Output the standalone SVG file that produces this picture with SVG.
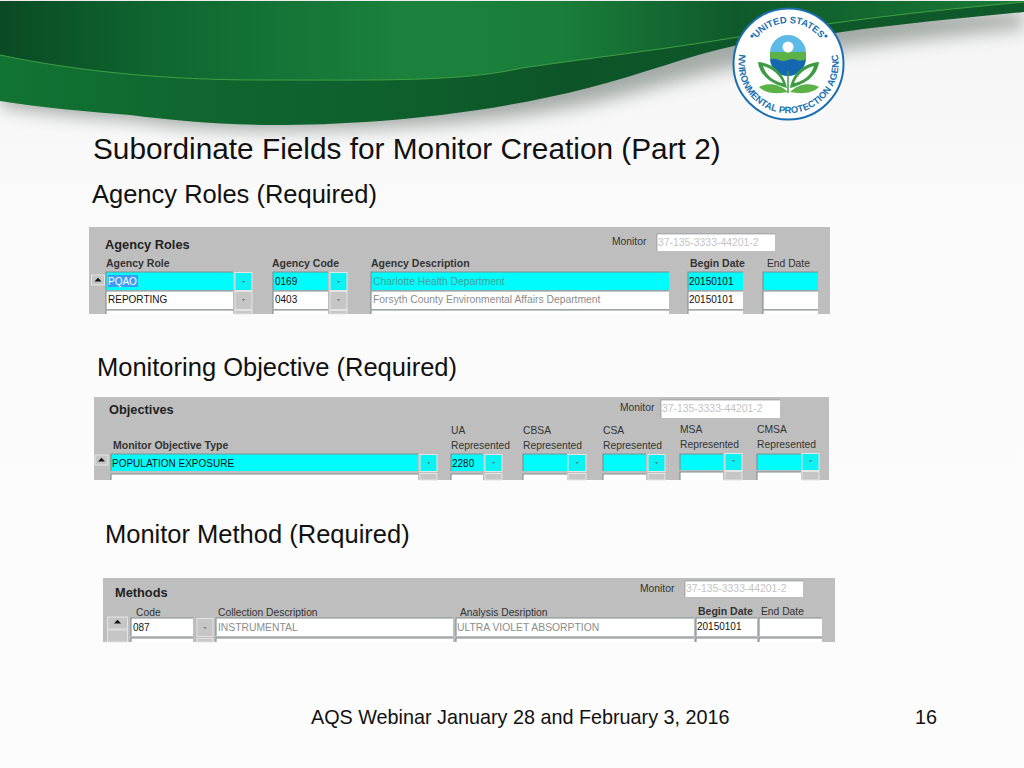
<svg xmlns="http://www.w3.org/2000/svg" width="1024" height="768" viewBox="0 0 1024 768">
<style>
text{font-family:"Liberation Sans",Arial,sans-serif;fill:#111}
.h{font-size:25.5px}.t{font-size:29.8px}.f{font-size:19.8px}
.s{font-size:12.8px;font-weight:bold;fill:#222}
.l{font-size:10.3px;fill:#333}.lb{font-size:10.5px;font-weight:bold;fill:#333}
.v{font-size:10px;fill:#111}.m{font-size:10.35px;fill:#8c8c8c}.mc{font-size:10.35px;fill:#4f9a9a}.k{font-size:10.4px;fill:#c4c4c4}
.p{fill:#bebebe}.w{fill:#fff}.c{fill:#00fdfd}
.dc{fill:#0af2f2;stroke:#e4e4e4;stroke-width:1}.dg{fill:#c6c6c6;stroke:#e4e4e4;stroke-width:1}
.b{fill:none;stroke:#7f8e8e;stroke-width:1.1}
.lt{font-size:9.4px;font-weight:bold;fill:#1a6fb0}
</style>
<defs>
<linearGradient id="bg" x1="0" y1="0" x2="0" y2="1"><stop offset="0" stop-color="#f4f4f4"/><stop offset="0.3" stop-color="#fbfbfb"/><stop offset="1" stop-color="#fcfcfc"/></linearGradient>
<linearGradient id="g1" x1="0" y1="0" x2="1" y2="0"><stop offset="0" stop-color="#0a4a24"/><stop offset="0.15" stop-color="#0f6630"/><stop offset="0.4" stop-color="#1b823d"/><stop offset="0.55" stop-color="#1a7d3a"/><stop offset="0.72" stop-color="#0f5a2b"/><stop offset="0.85" stop-color="#13682f"/><stop offset="1" stop-color="#1b7c38"/></linearGradient>
<linearGradient id="g2" x1="0" y1="0" x2="1" y2="0"><stop offset="0" stop-color="#127434"/><stop offset="0.2" stop-color="#0f662f"/><stop offset="0.4" stop-color="#0e5f2c"/><stop offset="0.55" stop-color="#0d5528"/><stop offset="1" stop-color="#0f5a2b"/></linearGradient>
<filter id="blur" x="-5%" y="-30%" width="110%" height="170%"><feGaussianBlur stdDeviation="9"/></filter>
<path id="a" d="M-1.6 -0.8H1.6L0 1Z" fill="#667"/>
<path id="up" d="M-3.5 1.5H3.5L0 -2.2Z" fill="#111"/>
<path id="arcT" d="M747.5 64A41 41 0 0 1 829.5 64" fill="none"/>
<path id="arcB" d="M738.9 57A50 50 0 1 0 838.1 57" fill="none"/>
</defs>
<rect width="1024" height="768" fill="url(#bg)"/>

<g id="banner">
<path d="M0 106C45 113 90 118 130 120C180 128 230 130 274 130C350 130 470 128 588 104C640 92 690 76 738 66C780 60 810 56 842 50C900 42 960 34 1024 28V12H0Z" fill="#7f8a84" opacity="0.7" filter="url(#blur)"/>
<path d="M0 1H1024V12C960 18 900 24 842 32C810 37 780 38 738 45C690 55 640 75 588 88C470 118 350 125 274 125C220 125 170 120 130 115C90 112 45 108 0 101Z" fill="url(#g2)"/>
<path d="M0 1H1024V2C960 8 900 14 842 22C810 26 780 32 738 37C660 50 590 58 522 68C460 82 380 80 260 80C170 80 80 72 0 55Z" fill="url(#g1)"/>
<path d="M0 55C80 72 170 80 260 80C380 80 460 82 522 68C590 58 660 50 738 37C780 32 810 26 842 22C900 14 960 8 1024 2" fill="none" stroke="#3fa043" stroke-width="1"/>
</g>

<g id="logo">
<ellipse cx="788.500" cy="64" rx="55" ry="55.500" fill="#fff" stroke="#1a6fb0" stroke-width="2"/>
<circle cx="752" cy="36" r="1.6" fill="#1a6fb0"/><circle cx="826" cy="36" r="1.6" fill="#1a6fb0"/>
<text class="lt" text-anchor="middle"><textPath href="#arcT" startOffset="50%">UNITED STATES</textPath></text>
<text class="lt" text-anchor="middle"><textPath href="#arcB" startOffset="50%">ENVIRONMENTAL PROTECTION AGENCY</textPath></text>
<path d="M770 53A18 18 0 0 1 806 53Z" fill="#5db9e6"/>
<path d="M770 58A18 18 0 0 0 806 58Z" fill="#1567b0"/>
<path d="M770 52H806V59Q801 62 797 60T788 60T779 60T770 59Z" fill="#5cb147"/>
<circle cx="788" cy="47" r="5.500" fill="#fff"/>
<path d="M788 71V93" stroke="#3d9b43" stroke-width="1.500"/>
<path d="M758 62C772 63 784 72 787 88C775 85 760 78 758 62ZM763 66C766 76 775 82 783 83C780 75 772 68 763 66Z" fill="#3d9b43" fill-rule="evenodd"/>
<path d="M819 62C805 63 793 72 790 88C802 85 817 78 819 62ZM814 66C811 76 802 82 794 83C797 75 805 68 814 66Z" fill="#3d9b43" fill-rule="evenodd"/>
<path d="M759 87C768 82 780 84 788 92C778 94 766 94 759 87Z" fill="#5cb147"/>
<path d="M819 87C810 82 798 84 790 92C800 94 812 94 819 87Z" fill="#5cb147"/>
</g>

<text id="title" class="t" x="93" y="159">Subordinate Fields for Monitor Creation (Part 2)</text>
<text id="head1" class="h" x="92" y="203">Agency Roles (Required)</text>
<text id="head2" class="h" x="97" y="376">Monitoring Objective (Required)</text>
<text id="head3" class="h" x="105" y="543">Monitor Method (Required)</text>

<g id="panel-roles">
<rect class="p" x="89" y="227" width="741" height="87"/>
<text class="s" x="105" y="249">Agency Roles</text>
<text class="lb" x="106" y="267">Agency Role</text>
<text class="lb" x="272" y="267">Agency Code</text>
<text class="lb" x="371" y="267">Agency Description</text>
<text class="lb" x="690" y="267">Begin Date</text>
<text class="l" x="767" y="267">End Date</text>
<text class="l" x="612" y="245">Monitor</text>
<rect class="w" x="657" y="234" width="118" height="17"/>
<path class="b" stroke-opacity="0.6" d="M657 251V234H775"/>
<text class="k" x="658" y="246">37-135-3333-44201-2</text>
<rect class="dg" x="91.500" y="275" width="13" height="10"/><use href="#up" x="98" y="280"/>
<rect class="c" x="106" y="272" width="127" height="18"/><rect class="w" x="106" y="291" width="127" height="18"/><rect class="w" x="106" y="310" width="127" height="4"/>
<rect class="c" x="273" y="272" width="55" height="18"/><rect class="w" x="273" y="291" width="55" height="18"/><rect class="w" x="273" y="310" width="55" height="4"/>
<rect class="c" x="371" y="272" width="298" height="18"/><rect class="w" x="371" y="291" width="298" height="18"/><rect class="w" x="371" y="310" width="298" height="4"/>
<rect class="c" x="688" y="272" width="55" height="18"/><rect class="w" x="688" y="291" width="55" height="18"/><rect class="w" x="688" y="310" width="55" height="4"/>
<rect class="c" x="763" y="272" width="55" height="18"/><rect class="w" x="763" y="291" width="55" height="18"/><rect class="w" x="763" y="310" width="55" height="4"/>
<path class="b" d="M106 290V272H233M106 309V291H233M106 314V310H233M273 290V272H328M273 309V291H328M273 314V310H328M371 290V272H669M371 309V291H669M371 314V310H669M688 290V272H743M688 309V291H743M688 314V310H743M763 290V272H818M763 309V291H818M763 314V310H818"/>
<rect class="dc" x="235" y="272.500" width="17" height="18"/><rect class="dg" x="235" y="291.500" width="17" height="18"/><rect class="dg" x="235" y="310.500" width="17" height="3.500"/>
<rect class="dc" x="330" y="272.500" width="17" height="18"/><rect class="dg" x="330" y="291.500" width="17" height="18"/><rect class="dg" x="330" y="310.500" width="17" height="3.500"/>
<use href="#a" x="243.500" y="282"/><use href="#a" x="243.500" y="300"/><use href="#a" x="338.500" y="282"/><use href="#a" x="338.500" y="300"/>
<rect x="108" y="275" width="30" height="12" fill="#3a9cf5"/>
<text class="v" x="108" y="284.500" style="fill:#fff">PQAO</text>
<text class="v" x="275" y="284.500">0169</text>
<text class="mc" x="373" y="284.500">Charlotte Health Department</text>
<text class="v" x="689" y="284.500">20150101</text>
<text class="v" x="108" y="303">REPORTING</text>
<text class="v" x="275" y="303">0403</text>
<text class="m" x="373" y="303">Forsyth County Environmental Affairs Department</text>
<text class="v" x="689" y="303">20150101</text>
</g>

<g id="panel-objectives">
<rect class="p" x="94" y="397" width="735" height="83"/>
<text class="s" x="109" y="414">Objectives</text>
<text class="lb" x="113" y="449">Monitor Objective Type</text>
<text class="l" x="620" y="411">Monitor</text>
<rect class="w" x="661" y="400" width="119" height="18"/>
<path class="b" stroke-opacity="0.6" d="M661 418V400H780"/>
<text class="k" x="662" y="412">37-135-3333-44201-2</text>
<text class="l" x="451" y="434">UA</text><text class="l" x="451" y="449">Represented</text>
<text class="l" x="523" y="434">CBSA</text><text class="l" x="523" y="449">Represented</text>
<text class="l" x="603" y="434">CSA</text><text class="l" x="603" y="449">Represented</text>
<text class="l" x="680" y="433">MSA</text><text class="l" x="680" y="448">Represented</text>
<text class="l" x="757" y="433">CMSA</text><text class="l" x="757" y="448">Represented</text>
<rect class="dg" x="95" y="455" width="13" height="10"/><use href="#up" x="101.500" y="460"/>
<rect class="c" x="111" y="454" width="307" height="17"/><rect class="w" x="111" y="474" width="307" height="6"/>
<rect class="c" x="451" y="454" width="32" height="17"/><rect class="w" x="451" y="474" width="32" height="6"/>
<rect class="c" x="523" y="454" width="44" height="17"/><rect class="w" x="523" y="474" width="44" height="6"/>
<rect class="c" x="603" y="454" width="43" height="17"/><rect class="w" x="603" y="474" width="43" height="6"/>
<rect class="c" x="680" y="454" width="43" height="16"/><rect class="w" x="680" y="472" width="43" height="8"/>
<rect class="c" x="757" y="454" width="44" height="16"/><rect class="w" x="757" y="472" width="44" height="8"/>
<path class="b" d="M111 471V454H418M111 480V474H418M451 471V454H483M451 480V474H483M523 471V454H567M523 480V474H567M603 471V454H646M603 480V474H646M680 470V454H723M680 480V472H723M757 470V454H801M757 480V472H801"/>
<rect class="dc" x="420" y="454.500" width="17" height="17"/><rect class="dg" x="420" y="473.500" width="17" height="6.500"/>
<rect class="dc" x="485" y="454.500" width="17" height="17"/><rect class="dg" x="485" y="473.500" width="17" height="6.500"/>
<rect class="dc" x="568" y="454.500" width="18" height="17"/><rect class="dg" x="568" y="473.500" width="18" height="6.500"/>
<rect class="dc" x="648" y="454.500" width="17" height="17"/><rect class="dg" x="648" y="473.500" width="17" height="6.500"/>
<rect class="dc" x="725" y="453.500" width="17" height="17"/><rect class="dg" x="725" y="471.500" width="17" height="8.500"/>
<rect class="dc" x="802" y="453.500" width="17" height="17"/><rect class="dg" x="802" y="471.500" width="17" height="8.500"/>
<use href="#a" x="428.500" y="463"/><use href="#a" x="493.500" y="463"/><use href="#a" x="577" y="463"/><use href="#a" x="656.500" y="463"/><use href="#a" x="733.500" y="461"/><use href="#a" x="810.500" y="461"/>
<text class="v" x="112" y="467">POPULATION EXPOSURE</text>
<text class="v" x="452" y="467">2280</text>
</g>

<g id="panel-methods">
<rect class="p" x="103" y="578" width="732" height="64"/>
<text class="s" x="115" y="597">Methods</text>
<text class="l" x="136" y="616">Code</text>
<text class="l" x="218" y="616">Collection Description</text>
<text class="l" x="460" y="616">Analysis Desription</text>
<text class="lb" x="698" y="615">Begin Date</text>
<text class="l" x="761" y="615">End Date</text>
<text class="l" x="640" y="592">Monitor</text>
<rect class="w" x="685" y="581" width="118" height="16"/>
<path class="b" stroke-opacity="0.6" d="M685 597V581H803"/>
<text class="k" x="686" y="592">37-135-3333-44201-2</text>
<rect class="dg" x="107.500" y="617" width="20" height="12"/><rect class="dg" x="107.500" y="630" width="20" height="12"/><use href="#up" x="117.500" y="622"/>
<rect class="w" x="131" y="618" width="62" height="18"/><rect class="w" x="131" y="638" width="62" height="4"/>
<rect class="w" x="216" y="618" width="237" height="18"/><rect class="w" x="216" y="638" width="237" height="4"/>
<rect class="w" x="456" y="618" width="238" height="18"/><rect class="w" x="456" y="638" width="238" height="4"/>
<rect class="w" x="696" y="618" width="61" height="18"/><rect class="w" x="696" y="638" width="61" height="4"/>
<rect class="w" x="759" y="618" width="63" height="18"/><rect class="w" x="759" y="638" width="63" height="4"/>
<path class="b" d="M131 636V618H193M131 642V638H193M216 636V618H453M216 642V638H453M456 636V618H694M456 642V638H694M696 636V618H757M696 642V638H757M759 636V618H822M759 642V638H822"/>
<rect class="dg" x="197" y="618.500" width="16" height="18"/><rect class="dg" x="197" y="638.500" width="16" height="3.500"/>
<use href="#a" x="205" y="628"/>
<text class="v" x="133" y="631">087</text>
<text class="m" x="218" y="631">INSTRUMENTAL</text>
<text class="m" x="457" y="631">ULTRA VIOLET ABSORPTION</text>
<text class="v" x="697" y="630">20150101</text>
</g>

<text id="footer" class="f" x="311" y="724">AQS Webinar January 28 and February 3, 2016</text>
<text id="page" class="f" x="915" y="724">16</text>
</svg>
